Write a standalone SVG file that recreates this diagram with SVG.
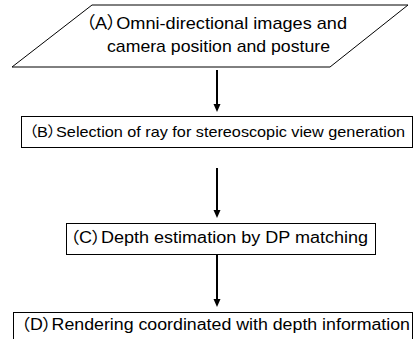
<svg xmlns="http://www.w3.org/2000/svg" width="414" height="339" viewBox="0 0 414 339">
<defs>
<style>
.shape{fill:#fff;stroke:#000;stroke-width:1}
.t{font-family:"Liberation Sans","Noto Sans CJK JP",sans-serif;fill:#000;font-feature-settings:"palt" 1}
.conn{stroke:#000;stroke-width:2;fill:none}
.head{fill:#000}
</style>
</defs>
<rect width="414" height="339" fill="#fff"/>
<g id="connectors">
<line class="conn" x1="217" y1="70" x2="217" y2="106"/>
<path class="head" d="M213.5,104 L220.5,104 L217,112 Z"/>
<line class="conn" x1="217" y1="168" x2="217" y2="212"/>
<path class="head" d="M213.5,210 L220.5,210 L217,218 Z"/>
<line class="conn" x1="217" y1="254" x2="217" y2="301"/>
<path class="head" d="M213.5,299 L220.5,299 L217,307 Z"/>
</g>
<g id="nodeA">
<polygon class="shape" points="92,5 408,5 330,67 12,67"/>
<text class="t" x="86" y="29" font-size="17" textLength="261" lengthAdjust="spacingAndGlyphs">（A）Omni-directional images and</text>
<text class="t" x="107" y="52" font-size="17" textLength="223" lengthAdjust="spacingAndGlyphs">camera position and posture</text>
</g>
<g id="nodeB">
<rect class="shape" x="21.5" y="116.5" width="391" height="31"/>
<text class="t" x="29" y="137" font-size="14.5" textLength="376" lengthAdjust="spacingAndGlyphs">（B）Selection of ray for stereoscopic view generation</text>
</g>
<g id="nodeC">
<rect class="shape" x="66.5" y="223.5" width="309" height="31"/>
<text class="t" x="70" y="243" font-size="16" textLength="298" lengthAdjust="spacingAndGlyphs">（C）Depth estimation by DP matching</text>
</g>
<g id="nodeD">
<rect class="shape" x="13.5" y="312.5" width="399" height="40"/>
<text class="t" x="21" y="330" font-size="16" textLength="389" lengthAdjust="spacingAndGlyphs">（D）Rendering coordinated with depth information</text>
</g>
</svg>
